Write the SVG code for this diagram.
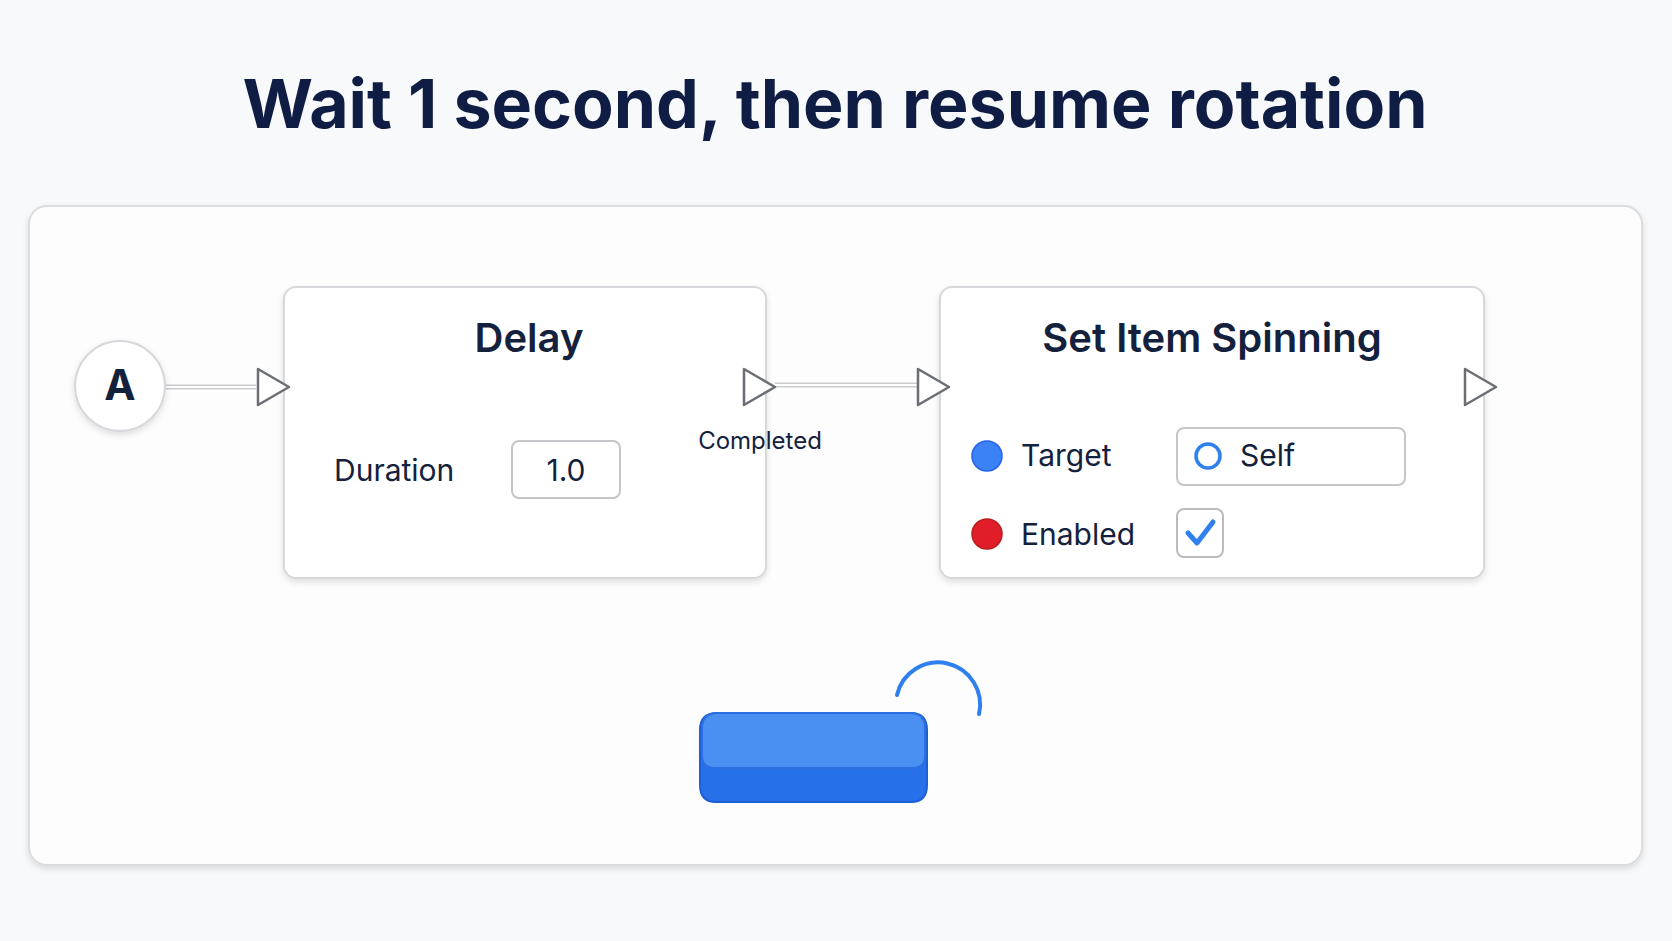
<svg xmlns="http://www.w3.org/2000/svg" width="1672" height="941" viewBox="0 0 1672 941">
<defs>
<style>
text{font-family:Inter,"Noto Sans",sans-serif;fill:#14213d}
.node{fill:#fff;stroke:#d6d8dc;stroke-width:2}
.lbl{font-size:30px}
.tri{fill:#fff;stroke:#6b6e74;stroke-width:2.5;stroke-linejoin:round}
.wire{stroke:#c9cbcf;stroke-width:5;fill:none}
.wire2{stroke:#fff;stroke-width:2;fill:none}
</style>
<filter id="sh" x="-10%" y="-10%" width="120%" height="130%"><feDropShadow dx="0" dy="3" stdDeviation="3" flood-color="#000" flood-opacity="0.12"/></filter>
</defs>
<rect width="1672" height="941" fill="#f8f9fa"/>
<text x="835" y="128" text-anchor="middle" font-size="68" font-weight="700" style="fill:#0f1d44">Wait 1 second, then resume rotation</text>
<rect x="29" y="206" width="1613" height="659" rx="18" fill="#fdfdfd" stroke="#dcdde0" stroke-width="2" filter="url(#sh)"/>
<g id="connectors">
<path class="wire" d="M165 387H256"/><path class="wire2" d="M165 387H256"/>
<path class="wire" d="M775 385H917"/><path class="wire2" d="M775 385H917"/>
</g>
<g id="nodeA">
<circle cx="120" cy="386" r="45" fill="#fff" stroke="#d6d8dc" stroke-width="2" filter="url(#sh)"/>
<text x="120" y="400" text-anchor="middle" font-size="42" font-weight="700">A</text>
</g>
<g id="delay">
<rect class="node" x="284" y="287" width="482" height="291" rx="12" filter="url(#sh)"/>
<text x="529" y="352" text-anchor="middle" font-size="40" font-weight="600">Delay</text>
<text class="lbl" x="334" y="481">Duration</text>
<rect x="512" y="441" width="108" height="57" rx="7" fill="#fff" stroke="#c4c6ca" stroke-width="2"/>
<text class="lbl" x="566" y="481" text-anchor="middle">1.0</text>
<path class="tri" d="M258 369L289 387L258 405Z"/>
<path class="tri" d="M744 369L775 387L744 405Z"/>
<text x="760" y="449" text-anchor="middle" font-size="24">Completed</text>
</g>
<g id="spin">
<rect class="node" x="940" y="287" width="544" height="291" rx="12" filter="url(#sh)"/>
<text x="1212" y="352" text-anchor="middle" font-size="40" font-weight="600">Set Item Spinning</text>
<path class="tri" d="M918 369L949 387L918 405Z"/>
<path class="tri" d="M1465 369L1496 387L1465 405Z"/>
<circle cx="987" cy="456" r="15" fill="#3b82f6" stroke="#2563eb" stroke-width="1.5"/>
<text class="lbl" x="1021" y="466">Target</text>
<rect x="1177" y="428" width="228" height="57" rx="7" fill="#fff" stroke="#c4c6ca" stroke-width="2"/>
<circle cx="1208" cy="456" r="12" fill="#fff" stroke="#2f80ed" stroke-width="3.5"/>
<text class="lbl" x="1240" y="466">Self</text>
<circle cx="987" cy="534" r="15" fill="#e11d2a" stroke="#b91c1c" stroke-width="1.5"/>
<text class="lbl" x="1021" y="545">Enabled</text>
<rect x="1177" y="509" width="46" height="48" rx="7" fill="#fff" stroke="#b8bbc0" stroke-width="2"/>
<path d="M1188 533L1197 543L1213 522" fill="none" stroke="#2f80ed" stroke-width="5" stroke-linecap="round" stroke-linejoin="round"/>
</g>
<g id="block">
<path d="M700 730Q700 713 717 713H911Q927 713 927 730V785Q927 802 911 802H716Q700 802 700 785Z" fill="#2670ea" stroke="#1d5fd6" stroke-width="2"/>
<path d="M702 728Q702 713 718 713H910Q925 713 925 728V757Q925 768 912 768H716Q702 768 702 757Z" fill="#4a90f2" stroke="#2d6fe0" stroke-width="2"/>
<path d="M897 695A41 41 0 0 1 979 714" fill="none" stroke="#2f80ed" stroke-width="4" stroke-linecap="round"/>
</g>
</svg>
